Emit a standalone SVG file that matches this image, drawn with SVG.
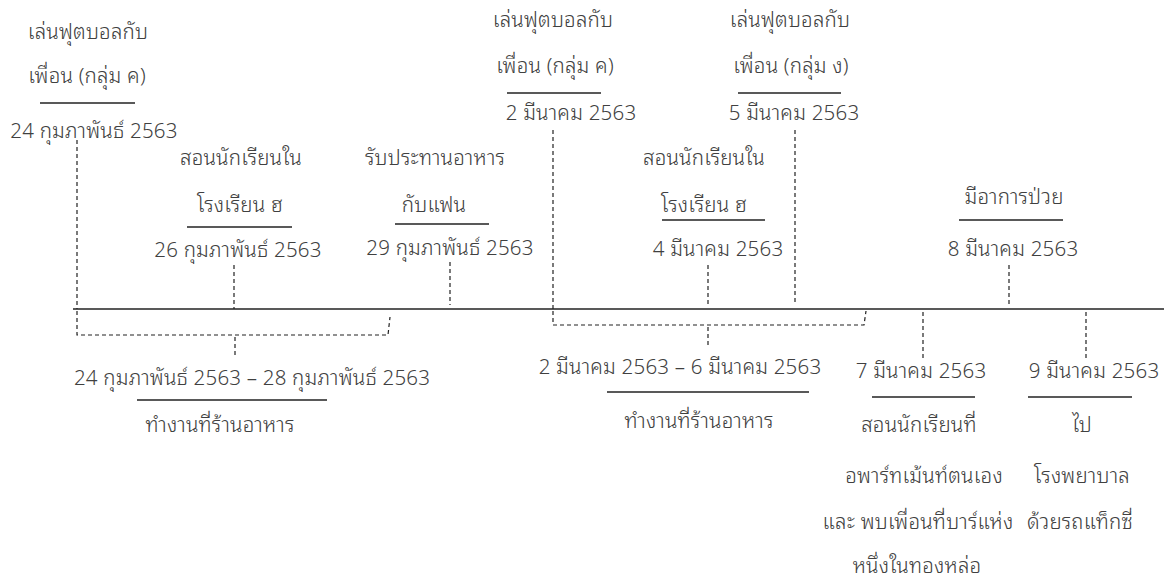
<svg xmlns="http://www.w3.org/2000/svg" width="1164" height="580" viewBox="0 0 1164 580">
<style>
.t{font-family:"Noto Sans Thai Looped","Leelawadee UI","Tahoma","Loma","Garuda","Noto Sans Thai","Noto Sans","DejaVu Sans",sans-serif;font-size:20.5px;font-weight:300;letter-spacing:0.2px;fill:#404040;text-anchor:middle}
.ul{stroke:#222;stroke-width:1.3;fill:none}
.d{stroke:#222;stroke-width:1.2;stroke-dasharray:4 3;fill:none}
.axis{stroke:#222;stroke-width:1.6}
</style>
<rect width="1164" height="580" fill="#fff"/>
<g id="connectors">
<line class="axis" x1="73" y1="309" x2="1164" y2="309"/>
<line class="d" x1="77" y1="140" x2="77" y2="309"/>
<line class="d" x1="234" y1="265" x2="234" y2="309"/>
<line class="d" x1="450" y1="262" x2="450" y2="305"/>
<line class="d" x1="553" y1="130" x2="553" y2="309"/>
<line class="d" x1="708" y1="265" x2="708" y2="305"/>
<line class="d" x1="795" y1="130" x2="795" y2="305"/>
<line class="d" x1="1009" y1="265" x2="1009" y2="305"/>
<line class="d" x1="923" y1="312" x2="923" y2="360"/>
<line class="d" x1="1086" y1="312" x2="1086" y2="360"/>
<path class="d" d="M77 311 V335 H388 L390 317"/>
<line class="d" x1="235" y1="337" x2="235" y2="355"/>
<path class="d" d="M553 311 V325 H864 L866 311"/>
<line class="d" x1="708" y1="327" x2="708" y2="346"/>
</g>
<g id="n-24feb">
<text class="t" x="88" y="39">เล่นฟุตบอลกับ</text>
<text class="t" x="87" y="83">เพื่อน (กลุ่ม ค)</text>
<line class="ul" x1="40" y1="103" x2="135" y2="103"/>
<text class="t" x="94" y="138">24 กุมภาพันธ์ 2563</text>
</g>
<g id="n-26feb">
<text class="t" x="241" y="165">สอนนักเรียนใน</text>
<text class="t" x="240" y="212">โรงเรียน ฮ</text>
<line class="ul" x1="187" y1="227" x2="292" y2="227"/>
<text class="t" x="238" y="257">26 กุมภาพันธ์ 2563</text>
</g>
<g id="n-29feb">
<text class="t" x="435" y="165">รับประทานอาหาร</text>
<text class="t" x="434" y="212">กับแฟน</text>
<line class="ul" x1="395" y1="224" x2="489" y2="224"/>
<text class="t" x="450" y="255">29 กุมภาพันธ์ 2563</text>
</g>
<g id="n-2mar">
<text class="t" x="553" y="27">เล่นฟุตบอลกับ</text>
<text class="t" x="555" y="73">เพื่อน (กลุ่ม ค)</text>
<line class="ul" x1="507" y1="93" x2="601" y2="93"/>
<text class="t" x="571" y="120">2 มีนาคม 2563</text>
</g>
<g id="n-5mar">
<text class="t" x="790" y="27">เล่นฟุตบอลกับ</text>
<text class="t" x="791" y="73">เพื่อน (กลุ่ม ง)</text>
<line class="ul" x1="738" y1="93" x2="841" y2="93"/>
<text class="t" x="794" y="120">5 มีนาคม 2563</text>
</g>
<g id="n-4mar">
<text class="t" x="704" y="165">สอนนักเรียนใน</text>
<text class="t" x="704" y="212">โรงเรียน ฮ</text>
<line class="ul" x1="662" y1="220" x2="765" y2="220"/>
<text class="t" x="718" y="256">4 มีนาคม 2563</text>
</g>
<g id="n-8mar">
<text class="t" x="1014" y="204">มีอาการป่วย</text>
<line class="ul" x1="959" y1="220" x2="1063" y2="220"/>
<text class="t" x="1013" y="256">8 มีนาคม 2563</text>
</g>
<g id="n-work1">
<text class="t" x="252" y="385">24 กุมภาพันธ์ 2563 – 28 กุมภาพันธ์ 2563</text>
<line class="ul" x1="137" y1="400" x2="327" y2="400"/>
<text class="t" x="220" y="432">ทำงานที่ร้านอาหาร</text>
</g>
<g id="n-work2">
<text class="t" x="680" y="374">2 มีนาคม 2563 – 6 มีนาคม 2563</text>
<line class="ul" x1="607" y1="392" x2="809" y2="392"/>
<text class="t" x="699" y="428">ทำงานที่ร้านอาหาร</text>
</g>
<g id="n-7mar">
<text class="t" x="921" y="378">7 มีนาคม 2563</text>
<line class="ul" x1="872" y1="397" x2="975" y2="397"/>
<text class="t" x="919" y="432">สอนนักเรียนที่</text>
<text class="t" x="924" y="483">อพาร์ทเม้นท์ตนเอง</text>
<text class="t" x="918" y="529">และ พบเพื่อนที่บาร์แห่ง</text>
<text class="t" x="917" y="573">หนึ่งในทองหล่อ</text>
</g>
<g id="n-9mar">
<text class="t" x="1094" y="378">9 มีนาคม 2563</text>
<line class="ul" x1="1028" y1="397" x2="1132" y2="397"/>
<text class="t" x="1082" y="432">ไป</text>
<text class="t" x="1082" y="483">โรงพยาบาล</text>
<text class="t" x="1080" y="529">ด้วยรถแท็กซี่</text>
</g>
</svg>
